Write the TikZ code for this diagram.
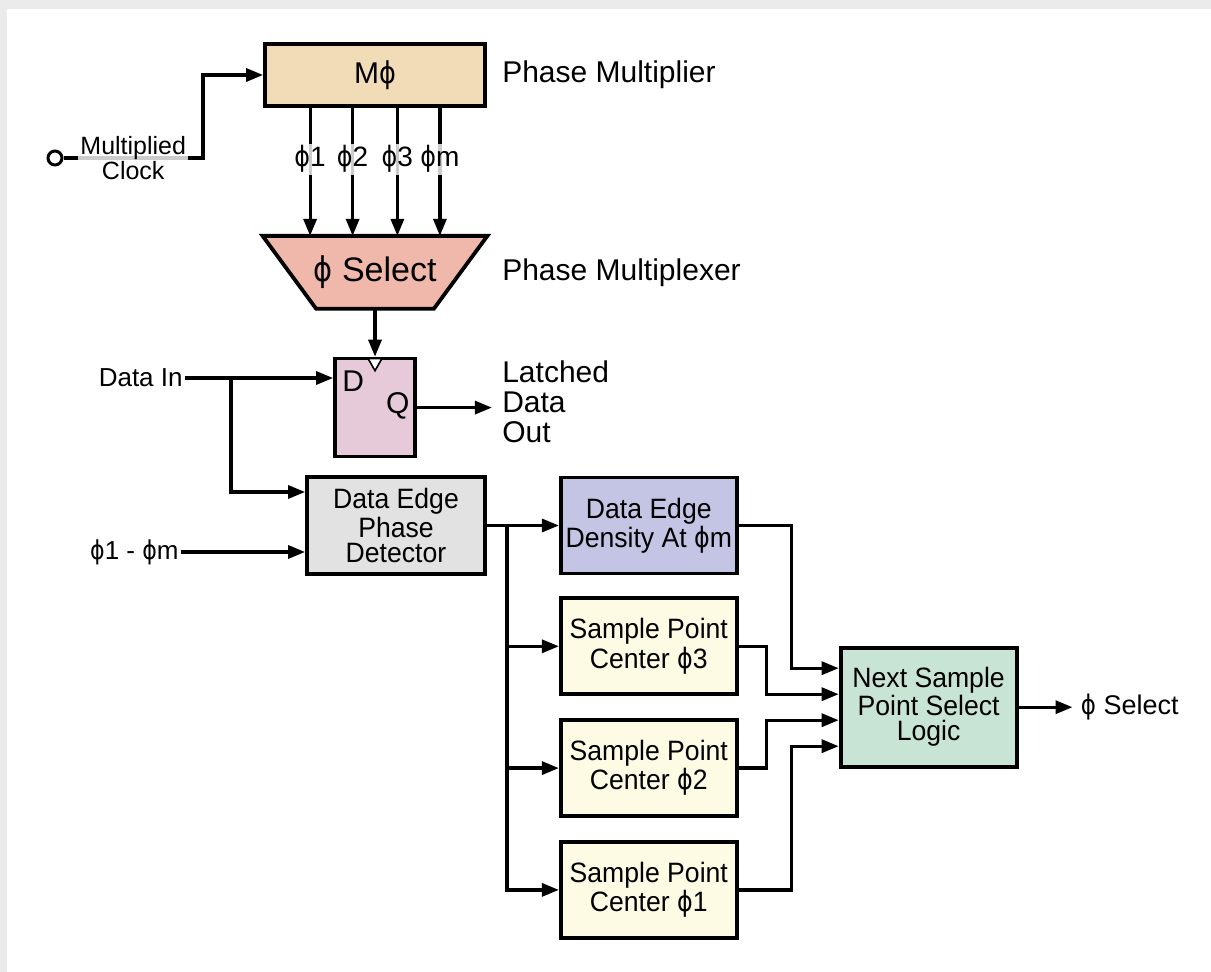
\documentclass[tikz,border=0pt]{standalone}
\usepackage{fontspec}
\setmainfont{Liberation Sans}
\newfontfamily\boxfont[FakeStretch=0.95]{Liberation Sans}
\newfontfamily\phifont{DejaVu Sans}
\usepackage{xcolor}
\usepackage{tikz}
\usetikzlibrary{shapes.geometric, arrows.meta, positioning, calc, backgrounds}

\definecolor{multfill}{RGB}{242,220,183}
\definecolor{selfill}{RGB}{240,184,170}
\definecolor{fffill}{RGB}{230,202,218}
\definecolor{detfill}{RGB}{226,226,226}
\definecolor{densfill}{RGB}{196,196,228}
\definecolor{spfill}{RGB}{253,251,227}
\definecolor{logicfill}{RGB}{200,228,212}
\newcommand{\phisym}{{\phifont\scalebox{0.85}[1]{ϕ}}}

\begin{document}
\begin{tikzpicture}[
        x=0.5pt, y=-0.5pt,
        >={Triangle[length=8.5pt,width=6.5pt]},
        font=\boxfont\fontsize{14}{12.5}\selectfont,
        % box styles
        block/.style={rectangle, draw=black, line width=1.9pt, minimum width=88pt, minimum height=48pt, align=center, inner sep=2pt},
        tag/.style={font=\fontsize{15}{15}\selectfont, align=left, inner sep=0pt},
        overlbl/.style={fill=white, fill opacity=0.8, text opacity=1, inner sep=1pt, align=center, font=\fontsize{12.5}{11.5}\selectfont},
        arrow/.style={line width=1.6pt, ->},
        line/.style={line width=1.6pt}
    ]

    % --- 0. FRAME ---
    \useasboundingbox (0,0) rectangle (1211,972);
    \begin{scope}[on background layer]
        \fill[gray!16] (0,0) rectangle (1211,972);
        \fill[white] (7,9) rectangle (1211,972);
    \end{scope}

    % --- 1. PHASE BLOCKS ---
    \node[block, fill=multfill, minimum width=110pt, minimum height=31pt, font=\fontsize{15}{15}\selectfont] (mult) at (375,75) {M\phisym};
    \node[tag, right=7.5pt of mult] (multtag) {Phase Multiplier};

    \node[minimum width=112pt, minimum height=36pt, inner sep=0pt, font=\fontsize{17}{17}\selectfont, below=64pt of mult] (sel) {\phisym{} Select};
    \begin{scope}[on background layer]
        \draw[line width=1.9pt, line join=miter, fill=selfill] (sel.north west) -- (sel.north east)
            -- ([xshift=-26.75pt]sel.south east) -- ([xshift=26.75pt]sel.south west) -- cycle;
    \end{scope}
    \node[tag, anchor=west] (muxtag) at (multtag.west |- sel) {Phase Multiplexer};

    % latch
    \node[block, fill=fffill, minimum width=40pt, minimum height=49pt, below=24pt of sel] (ff) {};
    \node[tag] (dlab) at ($(ff.north west)+(10pt,-12pt)$) {D};
    \node[tag] (qlab) at ($(ff.east)+(-9.5pt,1pt)$) {Q};
    \node[tag, anchor=west, yshift=3pt] (latched) at (multtag.west |- ff) {Latched\\Data\\Out};

    % inputs
    \node[anchor=east, inner sep=1pt, font=\fontsize{13}{13}\selectfont] (din) at (185,378) {Data In};
    \node[anchor=east, inner sep=1pt, font=\fontsize{13}{13}\selectfont] (phin) at (181,552) {\phisym1 - \phisym m};
    \node[circle, draw=black, line width=1.5pt, minimum size=7pt, inner sep=0pt] (clk) at (55,158) {};
    \coordinate (clkturn) at (203,158);

    % --- 2. DETECTOR CHAIN ---
    \node[block, fill=detfill, minimum width=89pt, minimum height=48.5pt] (det) at (396,525.5) {Data Edge\\Phase\\Detector};
    \node[block, fill=densfill, right=36pt of det] (dens) {Data Edge\\Density At \phisym m};
    \node[block, fill=spfill, below=10.5pt of dens] (sp3) {Sample Point\\Center \phisym3};
    \node[block, fill=spfill, below=11pt of sp3] (sp2) {Sample Point\\Center \phisym2};
    \node[block, fill=spfill, below=11pt of sp2] (sp1) {Sample Point\\Center \phisym1};

    \coordinate (spmid) at ($(sp3.east)!0.5!(sp2.east)$);
    \node[block, fill=logicfill, minimum height=59.5pt, right=50pt of spmid] (logic) {Next Sample\\Point Select\\Logic};
    \node[right=27pt of logic, inner sep=4pt, font=\fontsize{13.5}{13.5}\selectfont] (selout) {\phisym{} Select};

    % --- 3. CLOCK PATH ---
    \draw[arrow] (clk.east) -- node[overlbl] {Multiplied\\Clock} (clkturn) |- (mult.west);
    \foreach \f/\t [count=\i] in {0.21/1, 0.40/2, 0.60/3, 0.79/m} {
        \coordinate (ph\i) at ($(mult.south west)!\f!(mult.south east)$);
        \draw[arrow] (ph\i) -- node[overlbl, pos=0.4, font=\fontsize{14}{14}\selectfont] {\phisym\t} (ph\i |- sel.north);
    }
    \draw[arrow] (sel.south) -- (ff.north);
    \draw[line width=0.8pt, fill=white] ([xshift=-3.5pt,yshift=-0.9pt]ff.north) -- ([xshift=3.5pt,yshift=-0.9pt]ff.north) -- ([yshift=-7pt]ff.north) -- cycle;
    \draw[arrow] (ff.east) -- ([xshift=-5pt]ff.east -| latched.west);

    % --- 4. DATA PATH ---
    \coordinate (dsplit) at ($(din.east)+(23pt,0pt)$);
    \draw[arrow] (din.east) -- (din.east -| ff.west);
    \draw[arrow] (dsplit) |- ([yshift=16.75pt]det.west);
    \draw[arrow] (phin.east) -- (phin.east -| det.west);

    \coordinate (split) at ($(det.east)+(10pt,0pt)$);
    \draw[arrow] (det.east) -- (dens.west);
    \foreach \s in {sp3, sp2, sp1}
        \draw[arrow] (split) |- (\s.west);

    % --- 5. INTO THE SELECT LOGIC ---
    \coordinate (in1) at ([yshift=19.5pt]logic.west);
    \coordinate (in2) at ([yshift=6.5pt]logic.west);
    \coordinate (in3) at ([yshift=-6.5pt]logic.west);
    \coordinate (in4) at ([yshift=-19.5pt]logic.west);
    \draw[arrow] (dens.east) -| ([xshift=-23.5pt]in1) -- (in1);
    \draw[arrow] (sp3.east) -| ([xshift=-36pt]in2) -- (in2);
    \draw[arrow] (sp2.east) -| ([xshift=-36pt]in3) -- (in3);
    \draw[arrow] (sp1.east) -| ([xshift=-23.5pt]in4) -- (in4);
    \draw[arrow] (logic) -- (selout);

\end{tikzpicture}
\end{document}
